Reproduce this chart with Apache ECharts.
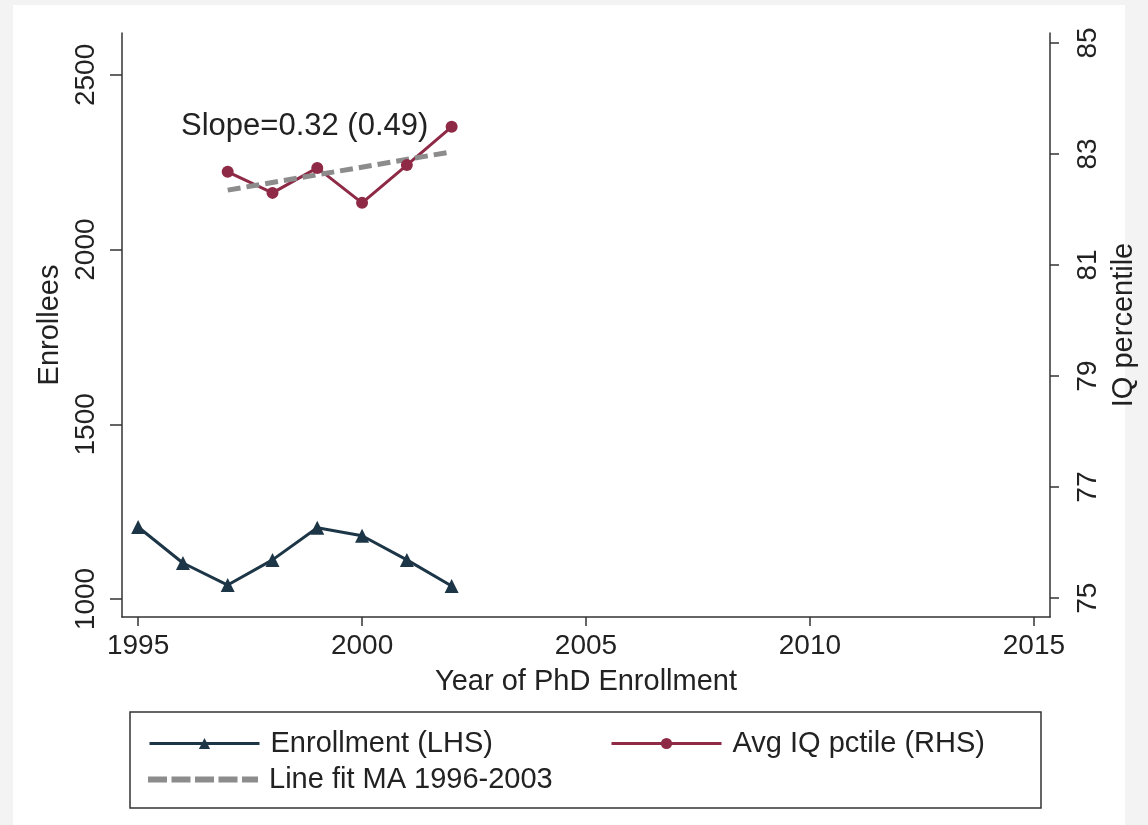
<!DOCTYPE html>
<html>
<head>
<meta charset="utf-8">
<script src="https://cdn.jsdelivr.net/npm/echarts@6/dist/echarts.min.js"></script>
<style>
  html, body { margin: 0; padding: 0; background: #f3f3f3; }
  #chart { width: 1148px; height: 825px; }
</style>
</head>
<body>
<div id="chart"></div>
<script>
// Enrollment (left axis) by year
const enrollYears = [1995, 1996, 1997, 1998, 1999, 2000, 2001, 2002];
const enrollment = [1206, 1103, 1040, 1112, 1204, 1181, 1112, 1037];

// Average IQ percentile (right axis) by year
const iqYears = [1997, 1998, 1999, 2000, 2001, 2002];
const iqPctile = [82.68, 82.30, 82.75, 82.12, 82.80, 83.49];

// Linear fit of the moving average
const fitYears = [1997, 2002];
const fitValues = [82.35, 83.04];

// Tick labels
const xTicks = [1995, 2000, 2005, 2010, 2015];
const leftTicks = [1000, 1500, 2000, 2500];
const rightTicks = [75, 77, 79, 81, 83, 85];

const seriesNames = ['Enrollment (LHS)', 'Avg IQ pctile (RHS)', 'Line fit MA 1996-2003'];
const slopeText = 'Slope=0.32 (0.49)';

const FONT = '"Liberation Sans", Arial, sans-serif';
const TXT = '#222';
const AX = '#333';
const NAVY = '#1d3647';
const MAROON = '#8e2a46';
const GREY = '#8c8c8c';

const pairs = (xs, ys) => xs.map((x, i) => [x, ys[i]]);
const plain = v => String(v);

// five short bars, used as the legend key of the dashed fit line
const dashIcon = 'path://M0,0h19v6h-19z M23.5,0h19v6h-19z M47,0h19v6h-19z M70.5,0h19v6h-19z M94,0h16v6h-16z';

const chart = echarts.init(document.getElementById('chart'), null, { renderer: 'canvas' });

const axisCommon = {
  axisLine: { show: true, lineStyle: { color: AX, width: 1.5 } },
  splitLine: { show: false },
  nameTextStyle: { fontFamily: FONT, fontSize: 29, color: TXT }
};

const tickLabel = { formatter: plain, fontFamily: FONT, fontSize: 28, color: TXT };

const legendBase = {
  orient: 'horizontal',
  itemWidth: 110,
  itemHeight: 14,
  selectedMode: false,
  lineStyle: { width: 3 },
  textStyle: { fontFamily: FONT, fontSize: 29, color: TXT, padding: [0, 0, 0, 6] }
};

chart.setOption({
  backgroundColor: '#f3f3f3',
  animation: false,
  graphic: [
    { type: 'rect', z: -10, shape: { x: 13, y: 5, width: 1112, height: 825 }, style: { fill: '#ffffff' } },
    { type: 'rect', shape: { x: 130, y: 712, width: 911, height: 96 }, style: { fill: 'none', stroke: '#333', lineWidth: 1.5 } },
    { type: 'text', left: 181, top: 111, style: { text: slopeText, fontFamily: FONT, fontSize: 31, fill: TXT } }
  ],
  grid: { left: 122, right: 98, top: 33, bottom: 208, containLabel: false },
  xAxis: Object.assign({}, axisCommon, {
    type: 'value',
    min: 1994.64,
    max: 2015.36,
    name: 'Year of PhD Enrollment',
    nameLocation: 'middle',
    nameGap: 50,
    axisTick: { show: true, customValues: xTicks, length: 9, lineStyle: { color: AX, width: 1.5 } },
    axisLabel: Object.assign({ customValues: xTicks, margin: 15 }, tickLabel)
  }),
  yAxis: [
    Object.assign({}, axisCommon, {
      type: 'value',
      position: 'left',
      min: 948.5,
      max: 2620,
      name: 'Enrollees',
      nameLocation: 'middle',
      nameRotate: 90,
      nameGap: 57,
      axisTick: { show: true, customValues: leftTicks, length: 12, lineStyle: { color: AX, width: 1.5 } },
      axisLabel: Object.assign({ customValues: leftTicks, rotate: 90, margin: 22 }, tickLabel)
    }),
    Object.assign({}, axisCommon, {
      type: 'value',
      position: 'right',
      min: 74.66,
      max: 85.18,
      name: 'IQ percentile',
      nameLocation: 'middle',
      nameRotate: 90,
      nameGap: 58,
      axisTick: { show: true, customValues: rightTicks, length: 9, lineStyle: { color: AX, width: 1.5 } },
      axisLabel: Object.assign({ customValues: rightTicks, rotate: 90, margin: 24 }, tickLabel)
    })
  ],
  legend: [
    Object.assign({}, legendBase, { data: [seriesNames[0]], left: 143, top: 724 }),
    Object.assign({}, legendBase, { data: [seriesNames[1]], left: 605, top: 724 }),
    Object.assign({}, legendBase, {
      data: [{ name: seriesNames[2], icon: dashIcon }],
      itemHeight: 7,
      left: 143,
      top: 760
    })
  ],
  series: [
    {
      name: seriesNames[0],
      type: 'line',
      yAxisIndex: 0,
      data: pairs(enrollYears, enrollment),
      symbol: 'triangle',
      symbolSize: 14,
      lineStyle: { color: NAVY, width: 3 },
      itemStyle: { color: NAVY }
    },
    {
      name: seriesNames[1],
      type: 'line',
      yAxisIndex: 1,
      data: pairs(iqYears, iqPctile),
      symbol: 'circle',
      symbolSize: 12,
      lineStyle: { color: MAROON, width: 3 },
      itemStyle: { color: MAROON }
    },
    {
      name: seriesNames[2],
      type: 'line',
      yAxisIndex: 1,
      data: pairs(fitYears, fitValues),
      symbol: 'none',
      lineStyle: { color: GREY, width: 5, type: [13, 6] },
      itemStyle: { color: GREY }
    }
  ]
});
</script>
</body>
</html>
